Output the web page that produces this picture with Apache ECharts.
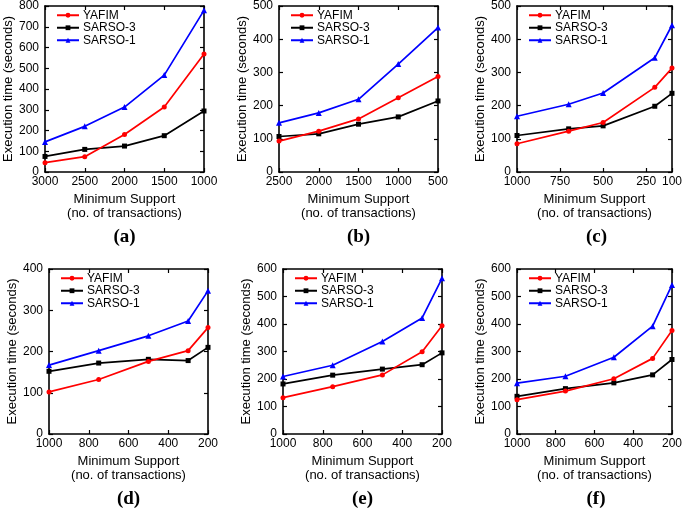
<!DOCTYPE html>
<html>
<head>
<meta charset="utf-8">
<script src="https://cdn.jsdelivr.net/npm/echarts@6/dist/echarts.min.js"></script>
<style>html,body{margin:0;padding:0;background:#fff}#c{width:685px;height:511px}</style>
</head>
<body>
<div id="c"></div>
<script>
// ---- data ----
const seriesNames = ['YAFIM', 'SARSO-3', 'SARSO-1'];
const panelLabels = ['(a)', '(b)', '(c)', '(d)', '(e)', '(f)'];

const xA = [3000, 2500, 2000, 1500, 1000];
const aYAFIM = [45, 74, 181, 313, 569];
const aSARSO3 = [75, 109, 125, 175, 294];
const aSARSO1 = [145, 220, 313, 467, 779];

const xB = [2500, 2000, 1500, 1000, 500];
const bYAFIM = [93, 123, 160, 224, 288];
const bSARSO3 = [107, 115, 144, 166, 214];
const bSARSO1 = [148, 178, 219, 325, 435];

const xC = [1000, 700, 500, 200, 100];
const cYAFIM = [85, 123, 149, 255, 313];
const cSARSO3 = [110, 130, 139, 198, 237];
const cSARSO1 = [168, 204, 238, 344, 442];

const xDEF = [1000, 750, 500, 300, 200];
const dYAFIM = [102, 132, 176, 202, 258];
const dSARSO3 = [152, 172, 181, 178, 210];
const dSARSO1 = [167, 202, 238, 274, 347];

const eYAFIM = [132, 172, 215, 299, 394];
const eSARSO3 = [182, 214, 236, 252, 295];
const eSARSO1 = [209, 250, 336, 422, 566];

const fYAFIM = [125, 156, 201, 275, 376];
const fSARSO3 = [137, 165, 186, 215, 271];
const fSARSO1 = [185, 210, 279, 392, 542];

const xTicksC = [1000, 750, 500, 250, 100];

// ---- layout / style ----
const FONT = '"Liberation Sans", Arial, sans-serif';
const colors = ['#ff0000', '#000000', '#0000ff'];
const symbols = ['circle', 'rect', 'triangle'];
const symbolSizes = [5, 5, 6];

const panels = [
  {x: xA, ys: [aYAFIM, aSARSO3, aSARSO1], xmin: 1000, xmax: 3000, xint: 500, ymax: 800, grid: {left: 45, top: 6, width: 159, height: 166}},
  {x: xB, ys: [bYAFIM, bSARSO3, bSARSO1], xmin: 500, xmax: 2500, xint: 500, ymax: 500, grid: {left: 279, top: 6, width: 159, height: 166}},
  {x: xC, ys: [cYAFIM, cSARSO3, cSARSO1], xmin: 100, xmax: 1000, custom: xTicksC, ymax: 500, grid: {left: 517, top: 6, width: 159, height: 166}},
  {x: xDEF, ys: [dYAFIM, dSARSO3, dSARSO1], xmin: 200, xmax: 1000, xint: 200, ymax: 400, grid: {left: 49, top: 269, width: 159, height: 165}},
  {x: xDEF, ys: [eYAFIM, eSARSO3, eSARSO1], xmin: 200, xmax: 1000, xint: 200, ymax: 600, grid: {left: 283, top: 269, width: 159, height: 165}},
  {x: xDEF, ys: [fYAFIM, fSARSO3, fSARSO1], xmin: 200, xmax: 1000, xint: 200, ymax: 600, grid: {left: 517, top: 269, width: 158, height: 165}}
];

const grids = [], xAxes = [], yAxes = [], series = [], legends = [], graphics = [];
const axisLine = {show: true, onZero: false, lineStyle: {color: '#000', width: 1.6}};
const plain = v => String(v);

panels.forEach((p, i) => {
  grids.push(Object.assign({containLabel: false}, p.grid));
  const baseX = {
    type: 'value', gridIndex: i, inverse: true, min: p.xmin, max: p.xmax,
    splitLine: {show: false}, axisLine: axisLine
  };
  if (p.xint) baseX.interval = p.xint;
  const tickX = {show: true, inside: true, length: 4, lineStyle: {color: '#000', width: 1.2}};
  const labX = {show: true, margin: 4, color: '#000', fontSize: 12, fontFamily: FONT, formatter: plain};
  if (p.custom) { tickX.customValues = p.custom; labX.customValues = p.custom; }
  xAxes.push(Object.assign({}, baseX, {
    position: 'bottom', axisTick: tickX, axisLabel: labX,
    name: 'Minimum Support\n(no. of transactions)', nameLocation: 'middle', nameGap: 20,
    nameTextStyle: {fontSize: 13, fontFamily: FONT, color: '#000', lineHeight: 14, verticalAlign: 'top'}
  }));
  xAxes.push(Object.assign({}, baseX, {
    position: 'top', axisTick: Object.assign({}, tickX), axisLabel: {show: false}
  }));
  const baseY = {
    type: 'value', gridIndex: i, min: 0, max: p.ymax, interval: 100,
    splitLine: {show: false}, axisLine: axisLine,
    axisTick: {show: true, inside: true, length: 4, lineStyle: {color: '#000', width: 1.2}}
  };
  yAxes.push(Object.assign({}, baseY, {
    position: 'left',
    axisLabel: {show: true, margin: 6, color: '#000', fontSize: 12, fontFamily: FONT, formatter: plain},
    name: 'Execution time (seconds)', nameLocation: 'middle', nameGap: 30,
    nameTextStyle: {fontSize: 13, fontFamily: FONT, color: '#000'}
  }));
  yAxes.push(Object.assign({}, baseY, {position: 'right', axisLabel: {show: false}}));

  seriesNames.forEach((n, k) => {
    series.push({
      type: 'line', name: n, xAxisIndex: 2 * i, yAxisIndex: 2 * i,
      data: p.x.map((xv, j) => [xv, p.ys[k][j]]),
      symbol: symbols[k], symbolSize: symbolSizes[k], showSymbol: true,
      lineStyle: {color: colors[k], width: 1.7},
      itemStyle: {color: colors[k]},
      animation: false, silent: true, z: 3 - k + 2
    });
  });

  legends.push({
    data: seriesNames, orient: 'vertical',
    left: p.grid.left + 11, top: p.grid.top + 3,
    itemWidth: 22, itemHeight: 6, itemGap: 0,
    selectedMode: false, padding: 0,
    textStyle: {fontSize: 12, fontFamily: FONT, color: '#000', lineHeight: 12.5, padding: [0, 0, 0, -1]}
  });

  graphics.push({
    type: 'text',
    x: p.grid.left + p.grid.width / 2,
    y: p.grid.top + p.grid.height + 65,
    style: {text: panelLabels[i], textAlign: 'center', textVerticalAlign: 'middle',
      font: 'bold 19px "Liberation Serif", "Times New Roman", serif', fill: '#000'}
  });
});

const chart = echarts.init(document.getElementById('c'), null, {renderer: 'canvas'});
chart.setOption({
  animation: false,
  backgroundColor: '#fff',
  grid: grids, xAxis: xAxes, yAxis: yAxes, series: series,
  legend: legends, graphic: graphics
});
</script>
</body>
</html>
